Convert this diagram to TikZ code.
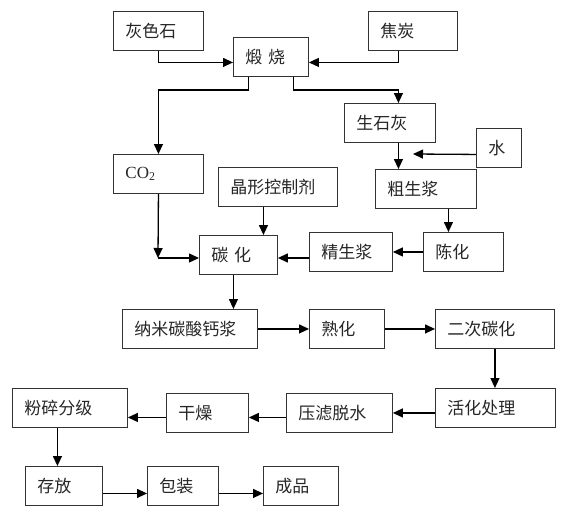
\documentclass[tikz,border=0pt]{standalone}
\usepackage{fontspec}
\setmainfont{Liberation Serif}
\newfontfamily\cjk{Noto Sans CJK SC}
\usetikzlibrary{arrows.meta}

\tikzset{
  proc/.style={draw=black!80, line width=0.9pt, anchor=north west,
    minimum height=39pt, inner xsep=12pt, inner ysep=0pt, align=left,
    text=black!85, font=\cjk\fontsize{17}{20}\selectfont},
  flow/.style={-{Triangle[length=10pt,width=9pt]}, line width=1.3pt}
}

\begin{document}
\begin{tikzpicture}[x=1pt, y=-1pt]
      \useasboundingbox (0,0) rectangle (573,514);

      % Raw materials and calcination
      \node[proc, text width=66pt] (hs) at (113,11) {灰色石};
      \node[proc, text width=51pt] (ds) at (233,37) {煅 烧};
      \node[proc, text width=65pt] (jt) at (368,11) {焦炭};
      \node[proc, text width=67pt] (sh) at (344,103) {生石灰};
      \node[proc, text width=21pt] (sw) at (476,128) {水};
      \node[proc, text width=77pt] (cs) at (375,169) {粗生浆};
      \node[proc, text width=66pt] (co) at (113,154) {\rmfamily CO\textsubscript{2}};

      % Slurry and carbonation
      \node[proc, text width=95pt] (jx) at (218,167) {晶形控制剂};
      \node[proc, text width=54pt] (th) at (199,235) {碳 化};
      \node[proc, text width=59pt] (jsj) at (309,232) {精生浆};
      \node[proc, text width=56pt] (ch) at (423,232) {陈化};
      \node[proc, text width=111pt] (nm) at (122,309) {纳米碳酸钙浆};
      \node[proc, text width=51pt] (sx) at (309,309) {熟化};
      \node[proc, text width=95pt] (ec) at (435,309) {二次碳化};

      % Finishing
      \node[proc, text width=96pt] (hh) at (435,388) {活化处理};
      \node[proc, text width=82pt] (yl) at (286,393) {压滤脱水};
      \node[proc, text width=58pt] (gz) at (166,393) {干燥};
      \node[proc, text width=91pt] (fs) at (12,388) {粉碎分级};
      \node[proc, text width=53pt] (cf) at (25,466) {存放};
      \node[proc, text width=47pt] (bz) at (147,466) {包装};
      \node[proc, text width=51pt] (cp) at (263,466) {成品};

      % Free ends
      \coordinate (wend) at (413,154);
      \coordinate (cc) at (158,258);

      % Calcination arrows
      \draw[flow] (hs.south) |- ([yshift=-5.5pt]ds.west);
      \draw[flow] ([xshift=-14.5pt]jt.south) |- ([yshift=-5.5pt]ds.east);
      \draw[flow] ([xshift=-22.5pt]ds.south) -- ++(0,13) -| (co.north);
      \draw[flow] ([xshift=22.5pt]ds.south) -- ++(0,13) -| ([xshift=8.5pt]sh.north);
      \draw[flow] ([xshift=8.5pt]sh.south) -- ([xshift=8.5pt]sh.south |- cs.north);
      \draw[flow] ([yshift=-6.5pt]sw.west) -- (wend);

      % Carbonation arrows
      \draw[flow] (co.south) -- (cc);
      \draw[flow] (cc) -- (cc -| th.west);
      \draw[flow] ([xshift=-14.5pt]jx.south) -- ([xshift=-14.5pt]jx.south |- th.north);
      \draw[flow] ([xshift=22.5pt]cs.south) -- ([xshift=22.5pt]cs.south |- ch.north);
      \draw[flow] (ch.west) -- (jsj.east);
      \draw[flow] (jsj.west |- cc) -- (th.east |- cc);
      \draw[flow] ([xshift=-5pt]th.south) -- ([xshift=-5pt]th.south |- nm.north);
      \draw[flow] (nm.east) -- (sx.west);
      \draw[flow] (sx.east) -- (ec.west);
      \draw[flow] (ec.south) -- (ec.south |- hh.north);

      % Finishing arrows
      \draw[flow] (hh.west |- yl.east) -- (yl.east);
      \draw[flow] ([yshift=-4.5pt]yl.west) -- ([yshift=-4.5pt]yl.west -| gz.east);
      \draw[flow] ([yshift=-4.5pt]gz.west) -- ([yshift=-4.5pt]gz.west -| fs.east);
      \draw[flow] ([xshift=-12.5pt]fs.south) -- ([xshift=-12.5pt]fs.south |- cf.north);
      \draw[flow] ([yshift=-7.5pt]cf.east) -- ([yshift=-7.5pt]bz.west);
      \draw[flow] ([yshift=-7.5pt]bz.east) -- ([yshift=-7.5pt]cp.west);

\end{tikzpicture}
\end{document}
